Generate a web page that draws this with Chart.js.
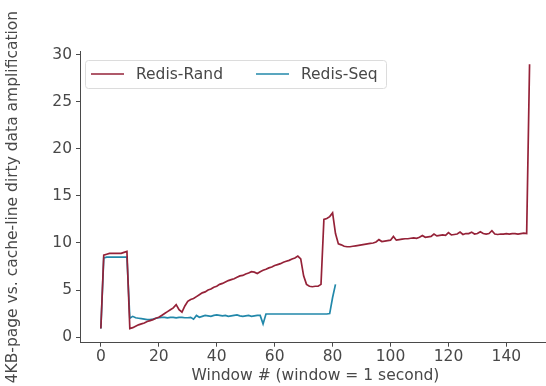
<!DOCTYPE html>
<html>
<head>
<meta charset="utf-8">
<script src="https://cdn.jsdelivr.net/npm/chart.js@4.4.0/dist/chart.umd.min.js"></script>
<style>
  html, body { margin: 0; padding: 0; background: #fff; overflow: hidden; }
  #wrap { width: 546px; height: 386px; overflow: hidden; }
</style>
</head>
<body>
<div id="wrap"><canvas id="chart" width="556" height="386"></canvas></div>
<script>
// dirty data amplification per 1-second window (index = window #)
const randValues = [
  0.9, 8.7, 8.8, 8.9, 8.9, 8.9, 8.9, 8.9, 9.0, 9.1,
  0.9, 1.0, 1.15, 1.3, 1.4, 1.5, 1.65, 1.75, 1.85, 2.0,
  2.1, 2.3, 2.5, 2.7, 2.9, 3.1, 3.45, 2.9, 2.65, 3.3,
  3.8, 4.0, 4.1, 4.3, 4.5, 4.7, 4.8, 5.0, 5.1, 5.3,
  5.4, 5.6, 5.7, 5.85, 6.0, 6.1, 6.2, 6.35, 6.5, 6.55,
  6.7, 6.8, 6.95, 6.9, 6.75, 6.95, 7.1, 7.2, 7.35, 7.45,
  7.6, 7.7, 7.8, 7.95, 8.05, 8.15, 8.3, 8.4, 8.6, 8.3,
  6.5, 5.6, 5.4, 5.35, 5.4, 5.4, 5.6, 12.5, 12.6, 12.8,
  13.2, 11.0, 9.9, 9.8, 9.65, 9.6, 9.6, 9.65, 9.7, 9.75,
  9.8, 9.85, 9.9, 9.95, 10.0, 10.1, 10.35, 10.15, 10.2, 10.25,
  10.3, 10.7, 10.3, 10.35, 10.4, 10.45, 10.45, 10.5, 10.55, 10.5,
  10.6, 10.8, 10.6, 10.65, 10.7, 10.95, 10.75, 10.8, 10.85, 10.8,
  11.1, 10.85, 10.9, 10.95, 11.15, 10.9, 11.0, 11.0, 11.15, 10.95,
  11.0, 11.2, 11.0, 10.95, 11.0, 11.3, 10.95, 10.9, 10.95, 10.95,
  11.0, 10.95, 11.0, 11.0, 10.95, 11.0, 11.05, 11.0, 29.0
];
const seqValues = [
  0.9, 8.4, 8.5, 8.5, 8.5, 8.5, 8.5, 8.5, 8.5, 8.5,
  2.0, 2.2, 2.05, 2.0, 1.95, 1.9, 1.85, 1.85, 1.9, 2.0,
  2.05, 2.1, 2.1, 2.05, 2.1, 2.1, 2.05, 2.1, 2.1, 2.05,
  2.05, 2.1, 1.9, 2.3, 2.1, 2.2, 2.3, 2.25, 2.2, 2.3,
  2.35, 2.3, 2.25, 2.3, 2.2, 2.25, 2.3, 2.35, 2.25, 2.2,
  2.25, 2.3, 2.2, 2.25, 2.3, 2.3, 1.4, 2.45, 2.45, 2.45,
  2.45, 2.45, 2.45, 2.45, 2.45, 2.45, 2.45, 2.45, 2.45, 2.45,
  2.45, 2.45, 2.45, 2.45, 2.45, 2.45, 2.45, 2.45, 2.45, 2.5,
  4.2, 5.6
];
const xTicks = [0, 20, 40, 60, 80, 100, 120, 140];
const yTicks = [0, 5, 10, 15, 20, 25, 30];

const FONT = { family: "'DejaVu Sans', sans-serif", size: 15.5 };
const TEXT = '#484848';
const AXIS = '#4a4a4a';

// matplotlib-style framed legend inside the axes, two columns
const boxLegend = {
  id: 'boxLegend',
  afterDraw(chart) {
    const c = chart.ctx;
    const x0 = 85, y0 = 60, w = 301, h = 28;
    c.save();
    c.fillStyle = 'rgba(255,255,255,0.85)';
    c.strokeStyle = '#dcdcdc';
    c.lineWidth = 1;
    c.beginPath();
    c.roundRect(x0 + 0.5, y0 + 0.5, w, h, 3);
    c.fill();
    c.stroke();
    const cols = [91, 256];
    c.font = `${FONT.size}px ${FONT.family}`;
    c.textBaseline = 'middle';
    chart.data.datasets.forEach((ds, i) => {
      const lx = cols[i], ly = y0 + h / 2;
      c.strokeStyle = ds.borderColor;
      c.lineWidth = 1.7;
      c.beginPath();
      c.moveTo(lx, ly);
      c.lineTo(lx + 33, ly);
      c.stroke();
      c.fillStyle = TEXT;
      c.fillText(ds.label, lx + 45, ly + 1);
    });
    c.restore();
  }
};

new Chart(document.getElementById('chart'), {
  type: 'line',
  data: {
    datasets: [
      {
        label: 'Redis-Rand',
        data: randValues.map((v, i) => ({ x: i, y: v })),
        borderColor: '#952238',
        borderWidth: 1.7,
        pointRadius: 0,
        tension: 0
      },
      {
        label: 'Redis-Seq',
        data: seqValues.map((v, i) => ({ x: i, y: v })),
        borderColor: '#2288aa',
        borderWidth: 1.7,
        pointRadius: 0,
        tension: 0
      }
    ]
  },
  options: {
    responsive: false,
    animation: false,
    layout: { padding: { top: 51.5, right: 5, bottom: 0, left: 0 } },
    plugins: {
      legend: { display: false },
      tooltip: { enabled: false }
    },
    scales: {
      x: {
        type: 'linear',
        min: -7.2,
        max: 155.4,
        afterBuildTicks: s => { s.ticks = xTicks.map(v => ({ value: v })); },
        afterFit: s => { s.height = 43.3; },
        border: { display: true, color: AXIS, width: 1 },
        grid: { display: true, drawOnChartArea: false, drawTicks: true, tickLength: 4, tickColor: AXIS },
        ticks: { font: FONT, color: TEXT, padding: 1, maxRotation: 0 },
        title: {
          display: true,
          text: 'Window # (window = 1 second)',
          font: FONT,
          color: TEXT,
          padding: { top: 0, bottom: 1 }
        }
      },
      y: {
        min: -0.6,
        max: 30.35,
        afterBuildTicks: s => { s.ticks = yTicks.map(v => ({ value: v })); },
        afterFit: s => { s.width = 80; },
        border: { display: true, color: AXIS, width: 1 },
        grid: { display: true, drawOnChartArea: false, drawTicks: true, tickLength: 4, tickColor: AXIS },
        ticks: { font: FONT, color: TEXT, padding: 4 },
        title: {
          display: true,
          text: '4KB-page vs. cache-line dirty data amplification',
          font: FONT,
          color: TEXT,
          padding: { top: 4, bottom: 0 }
        }
      }
    }
  },
  plugins: [boxLegend]
});
</script>
</body>
</html>
